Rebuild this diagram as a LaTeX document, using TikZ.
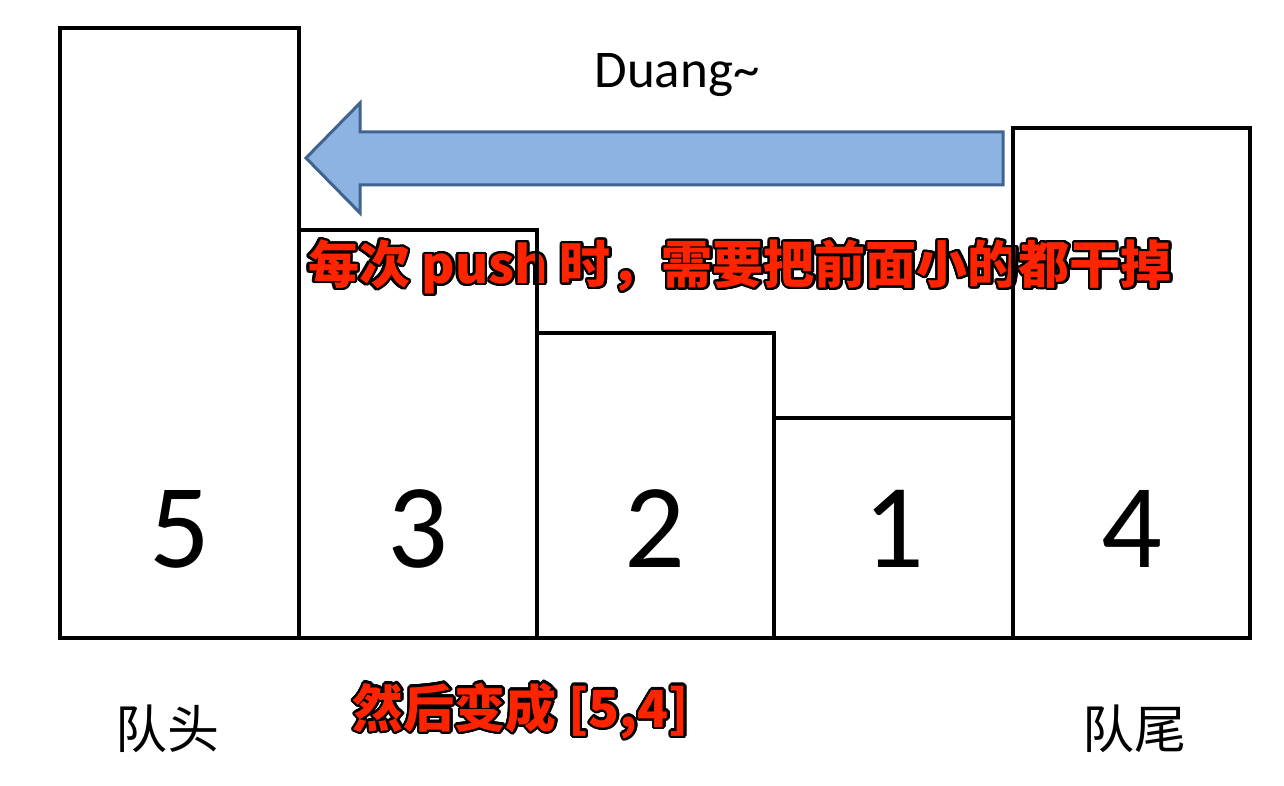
\documentclass[tikz,border=0pt]{standalone}
\usepackage{fontspec}
\usepackage{contour}
\setmainfont{Carlito}
\newfontfamily\cjk{Noto Sans CJK SC}
\definecolor{arrfill}{RGB}{141,179,226}
\definecolor{arrline}{RGB}{65,100,143}
\definecolor{hotred}{RGB}{255,36,0}
\contourlength{2.4pt}
\contournumber{24}
\tikzset{
  bar/.style={draw=black,line width=4.5pt,line join=miter},
  num/.style={font=\fontsize{120}{120}\selectfont,anchor=base,inner sep=0pt},
  note/.style={font=\cjk\bfseries\fontsize{51}{55}\selectfont,inner sep=0pt},
  endlabel/.style={font=\cjk\fontsize{52}{54}\selectfont,inner sep=0pt},
}
\begin{document}
\begin{tikzpicture}[x=1pt,y=-1pt]
\useasboundingbox[fill=white] (0,0) rectangle (1284,786);
% notes (under the bars)
\node[note] (n1) at (740,268) {\contour{black}{\textcolor{hotred}{每次 push 时，需要把前面小的都干掉}}};
\node[note] (n2) at (521,712) {\contour{black}{\textcolor{hotred}{然后变成 [5,4]}}};
% bars
\draw[bar] (60,28) rectangle (299,638);
\draw[bar] (299,230) rectangle (537,638);
\draw[bar] (537,333) rectangle (774,638);
\draw[bar] (774,418) rectangle (1013,638);
\draw[bar] (1013,128) rectangle (1250,638);
% numbers
\node[num] (v5) at (180,567) {5};
\node[num] (v3) at (418,567) {3};
\node[num] (v2) at (655,567) {2};
\node[num] (v1) at (894,567) {1};
\node[num] (v4) at (1132,567) {4};
% arrow
\draw[fill=arrfill,draw=arrline,line width=3pt,line join=miter]
  (1003,132) -- (360,132) -- (360,103) -- (306,158) -- (360,213) -- (360,185) -- (1003,185) -- cycle;
\node[font=\fontsize{53}{53}\selectfont,anchor=base,inner sep=0pt] (duang) at (677,88) {Duang\textasciitilde};
% end labels
\node[endlabel] (head) at (167,729) {队头};
\node[endlabel] (tail) at (1134,729) {队尾};
\end{tikzpicture}
\end{document}
